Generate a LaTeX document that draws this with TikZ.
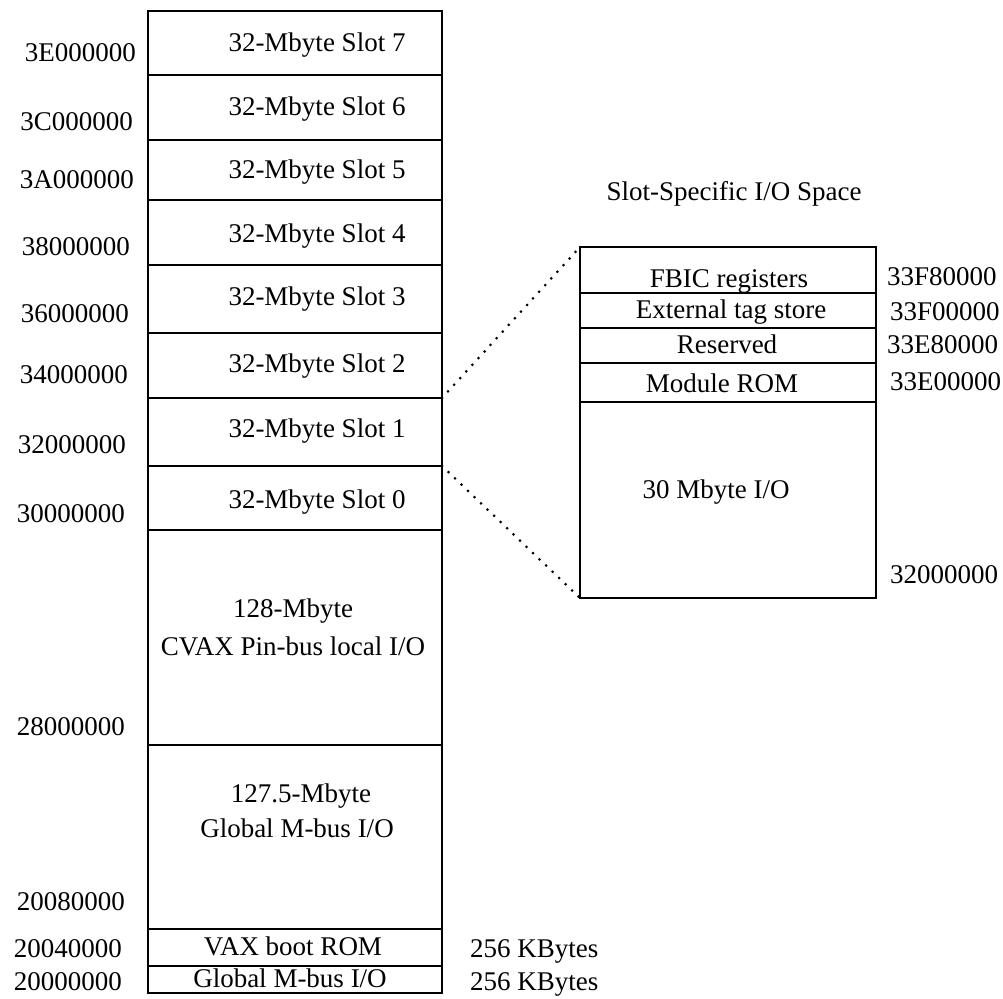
\documentclass[tikz,border=0pt]{standalone}
\usepackage{fontspec}
\setmainfont{Liberation Serif}
\begin{document}
\begin{tikzpicture}[x=1pt,y=-1pt,
 region/.style={draw, line width=1.3pt, rectangle, inner sep=0pt, outer sep=0pt, anchor=north west},
 lbox/.style={region, minimum width=294pt},
 rbox/.style={region, minimum width=296pt},
 txt/.style={anchor=base, inner sep=0pt, font=\fontsize{27}{32}\selectfont},
 addr/.style={txt, anchor=base east},
 raddr/.style={txt, anchor=base west},
 dotline/.style={line width=3pt, line cap=round, dash pattern=on 0pt off 9pt}]
\useasboundingbox (0,0) rectangle (1003,998);
% left memory map
\node[lbox, minimum height=64pt] (s7) at (148,11) {};
\node[lbox, minimum height=65pt] (s6) at (148,75) {};
\node[lbox, minimum height=60pt] (s5) at (148,140) {};
\node[lbox, minimum height=65pt] (s4) at (148,200) {};
\node[lbox, minimum height=68pt] (s3) at (148,265) {};
\node[lbox, minimum height=65pt] (s2) at (148,333) {};
\node[lbox, minimum height=68pt] (s1) at (148,398) {};
\node[lbox, minimum height=64pt] (s0) at (148,466) {};
\node[lbox, minimum height=215pt] (cvax) at (148,530) {};
\node[lbox, minimum height=184pt] (gm) at (148,745) {};
\node[lbox, minimum height=37pt] (vax) at (148,929) {};
\node[lbox, minimum height=27pt] (gmb) at (148,966) {};
% texts in left map
\node[txt] (t7) at (317,52) {32-Mbyte Slot 7};
\node[txt] (t6) at (317,115) {32-Mbyte Slot 6};
\node[txt] (t5) at (317,178) {32-Mbyte Slot 5};
\node[txt] (t4) at (317,242) {32-Mbyte Slot 4};
\node[txt] (t3) at (317,305) {32-Mbyte Slot 3};
\node[txt] (t2) at (317,372) {32-Mbyte Slot 2};
\node[txt] (t1) at (317,437) {32-Mbyte Slot 1};
\node[txt] (t0) at (317,508) {32-Mbyte Slot 0};
\node[txt] (tc1) at (293,617) {128-Mbyte};
\node[txt] (tc2) at (293,655) {CVAX Pin-bus local I/O};
\node[txt] (tg1) at (301,802) {127.5-Mbyte};
\node[txt] (tg2) at (297,837) {Global M-bus I/O};
\node[txt] (tv) at (293,955) {VAX boot ROM};
\node[txt] (tgb) at (290,987) {Global M-bus I/O};
% addresses left
\node[addr] (a7) at (136,62) {3E000000};
\node[addr] (a6) at (133,130) {3C000000};
\node[addr] (a5) at (134,188) {3A000000};
\node[addr] (a4) at (130,255) {38000000};
\node[addr] (a3) at (129,322) {36000000};
\node[addr] (a2) at (128,383) {34000000};
\node[addr] (a1) at (126,453) {32000000};
\node[addr] (a0) at (125,522) {30000000};
\node[addr] (a28) at (125,735) {28000000};
\node[addr] (a208) at (125,910) {20080000};
\node[addr] (a204) at (122,957) {20040000};
\node[addr] (a200) at (122,990) {20000000};
% sizes
\node[raddr] (k1) at (470,957) {256 KBytes};
\node[raddr] (k2) at (470,990) {256 KBytes};
% right: slot-specific I/O space
\node[txt] (title) at (734,200) {Slot-Specific I/O Space};
\node[rbox, minimum height=46pt] (fbic) at (580,247) {};
\node[rbox, minimum height=35pt] (ext) at (580,293) {};
\node[rbox, minimum height=35pt] (res) at (580,328) {};
\node[rbox, minimum height=39pt] (rom) at (580,363) {};
\node[rbox, minimum height=196pt] (io) at (580,402) {};
\node[txt] (tf) at (729,287) {FBIC registers};
\node[txt] (te) at (731,318) {External tag store};
\node[txt] (tr) at (727,353) {Reserved};
\node[txt] (tm) at (722,392) {Module ROM};
\node[txt] (ti) at (716,498) {30 Mbyte I/O};
\node[raddr] (r1) at (887,285) {33F80000};
\node[raddr] (r2) at (890,320) {33F00000};
\node[raddr] (r3) at (887,353) {33E80000};
\node[raddr] (r4) at (890,390) {33E00000};
\node[raddr] (r5) at (890,583) {32000000};
% dotted expansion lines
\draw[dotline] (s1.north east) -- (fbic.north west);
\draw[dotline] (s1.south east) -- (io.south west);
\end{tikzpicture}
\end{document}
